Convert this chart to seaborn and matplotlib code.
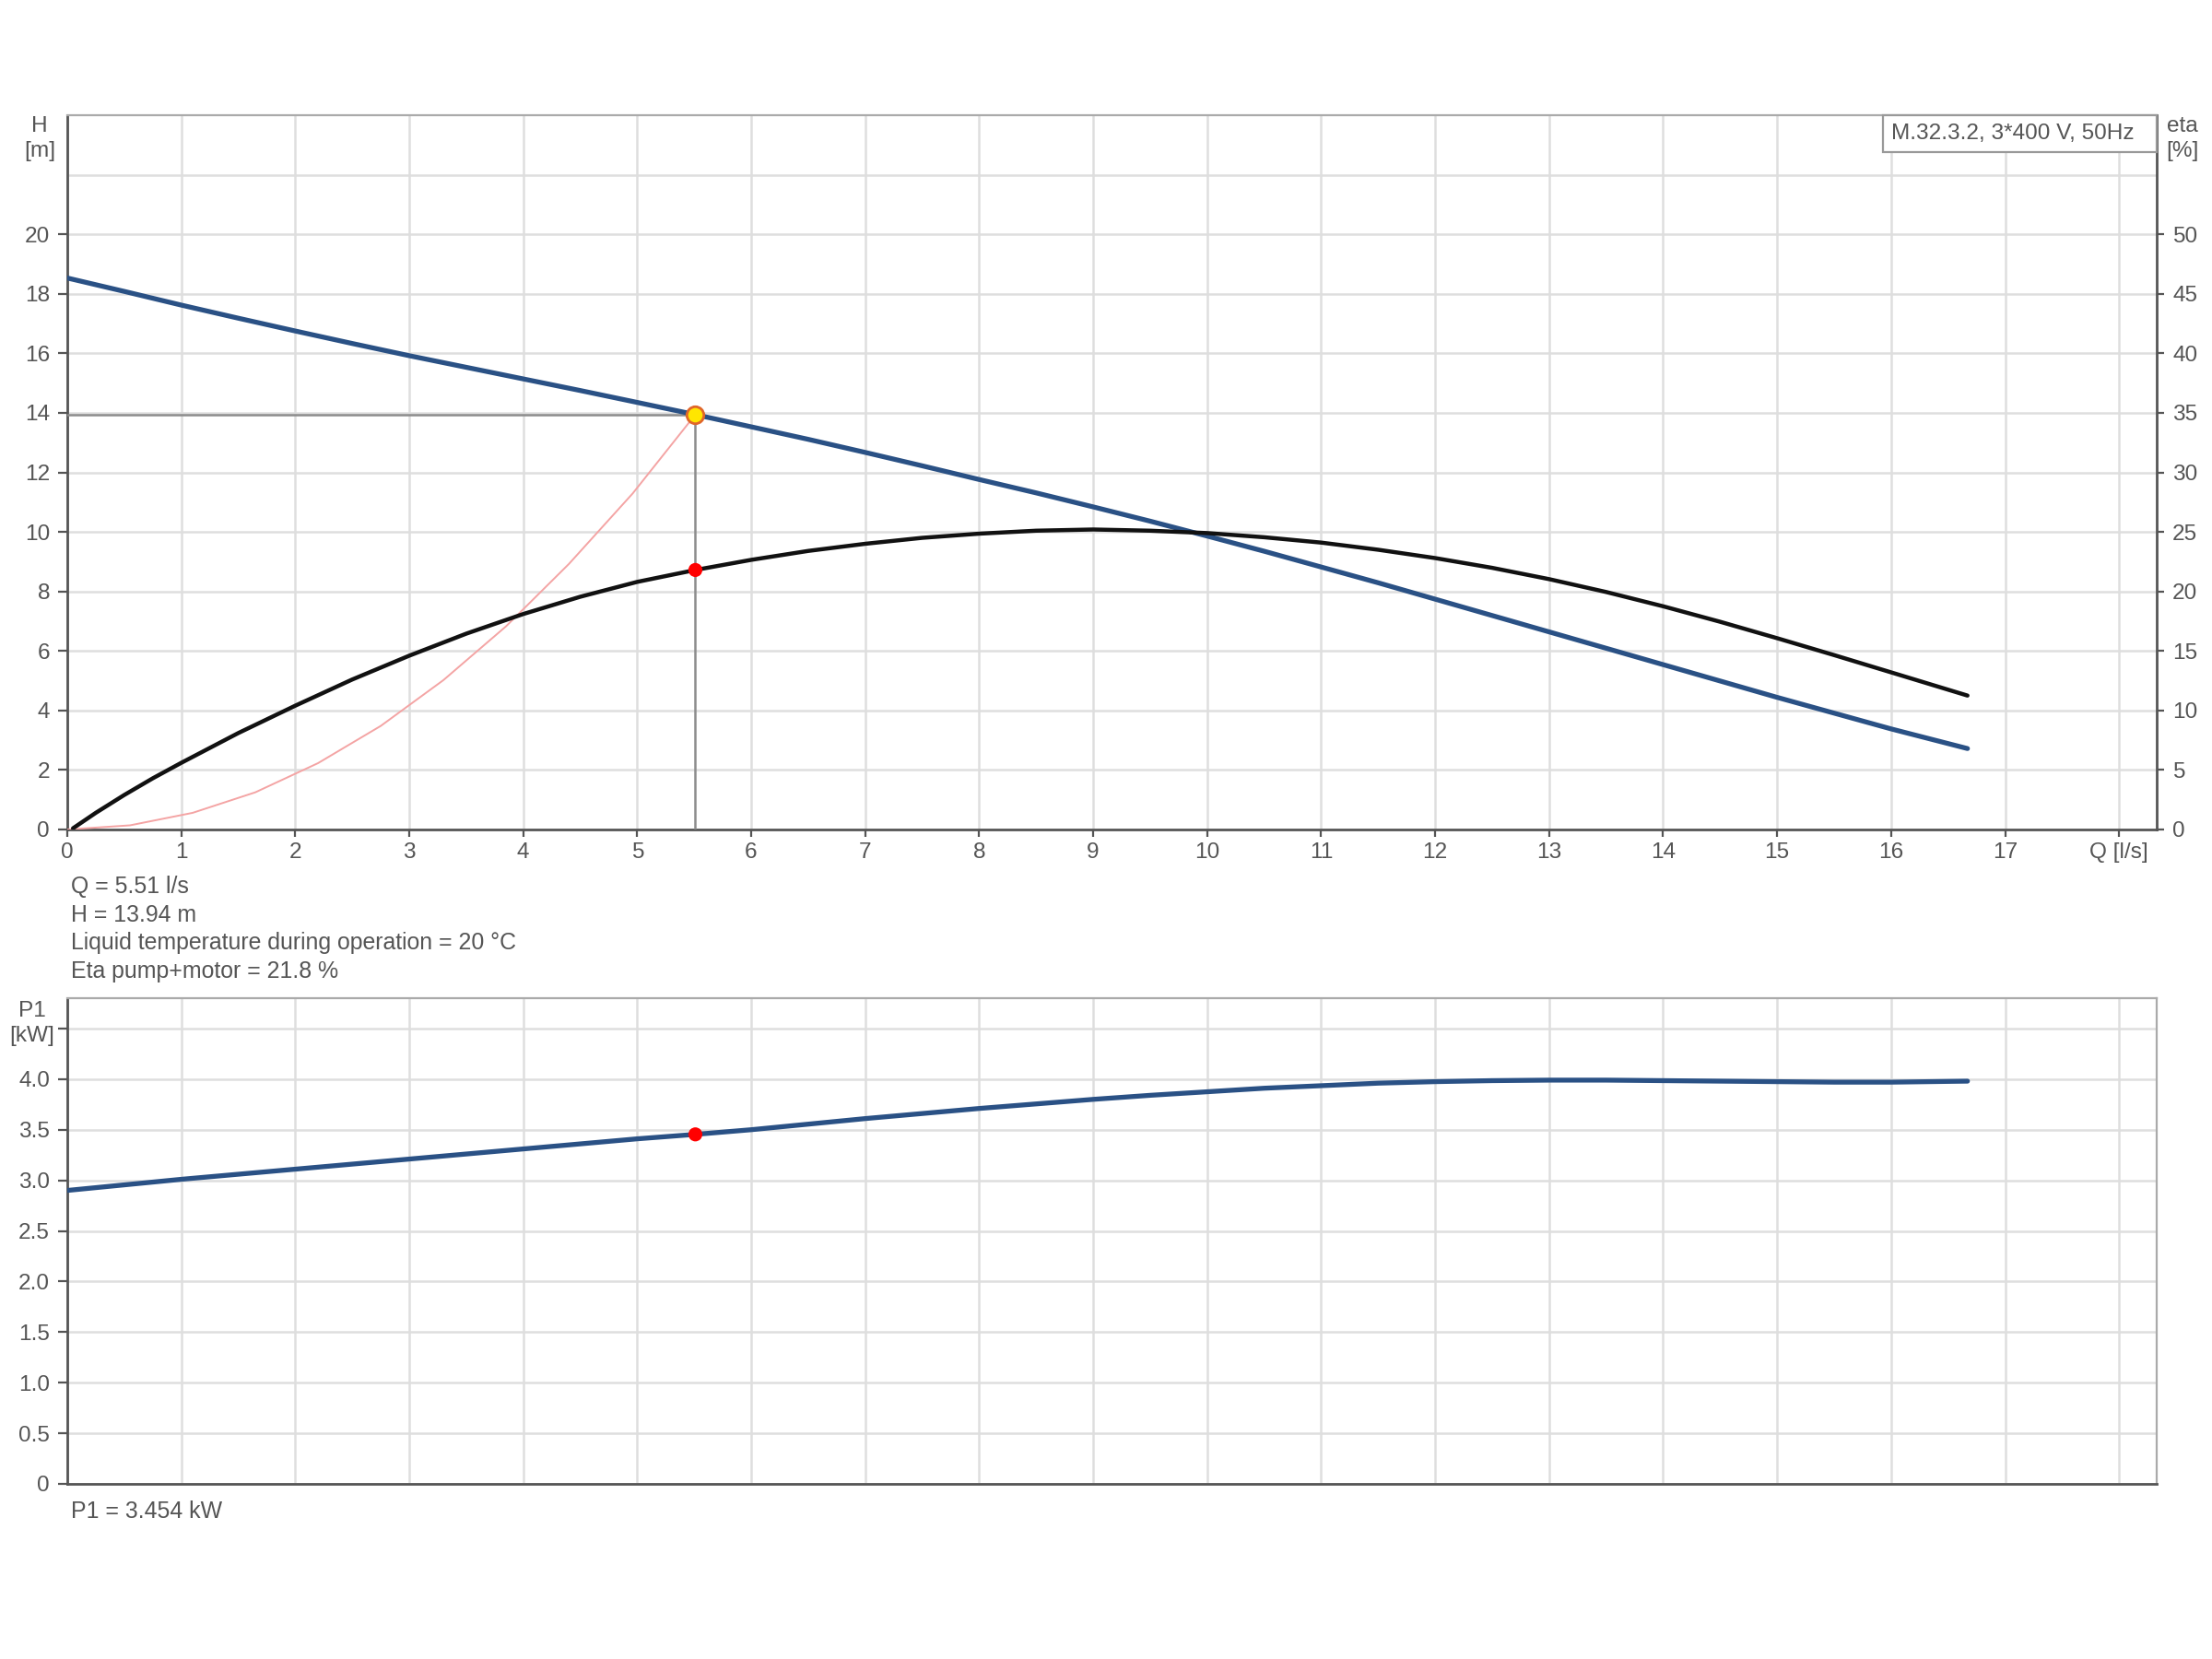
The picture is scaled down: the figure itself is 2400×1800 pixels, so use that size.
import numpy as np
import pandas as pd
import matplotlib
matplotlib.use("Agg")
import matplotlib.pyplot as plt
import seaborn as sns
from matplotlib.patches import Rectangle

# ---------------- data ----------------
q_pump = [0, 0.5, 1, 1.5, 2, 2.5, 3, 3.5, 4, 4.5, 5, 5.51, 6, 6.5, 7, 7.5, 8, 8.5,
          9, 9.5, 10, 10.5, 11, 11.5, 12, 12.5, 13, 13.5, 14, 14.5, 15, 15.5, 16, 16.67]
h_pump = [18.53, 18.08, 17.62, 17.18, 16.75, 16.33, 15.92, 15.53, 15.14, 14.75,
          14.35, 13.94, 13.53, 13.11, 12.67, 12.22, 11.76, 11.31, 10.84, 10.36,
          9.86, 9.35, 8.82, 8.29, 7.74, 7.19, 6.64, 6.09, 5.54, 4.99, 4.44, 3.91,
          3.38, 2.72]

q_eta = [0.05, 0.25, 0.5, 0.75, 1, 1.5, 2, 2.5, 3, 3.5, 4, 4.5, 5, 5.51, 6, 6.5, 7,
         7.5, 8, 8.5, 9, 9.5, 10, 10.5, 11, 11.5, 12, 12.5, 13, 13.5, 14, 14.5, 15,
         15.5, 16, 16.67]
eta = [0.1, 1.4, 2.9, 4.3, 5.6, 8.1, 10.4, 12.6, 14.6, 16.45, 18.1, 19.55, 20.8,
       21.8, 22.65, 23.4, 24.0, 24.5, 24.85, 25.1, 25.2, 25.1, 24.9, 24.55, 24.1,
       23.5, 22.8, 21.98, 21.03, 19.95, 18.75, 17.45, 16.07, 14.65, 13.2, 11.25]

q_sys = [0, 0.55, 1.1, 1.65, 2.2, 2.75, 3.3, 3.85, 4.4, 4.96, 5.51]
h_sys = [0, 0.14, 0.56, 1.25, 2.23, 3.48, 5.02, 6.83, 8.92, 11.29, 13.94]

q_p1 = [0, 1, 2, 3, 4, 5, 5.51, 6, 6.5, 7, 7.5, 8, 8.5, 9, 9.5, 10, 10.5, 11, 11.5,
        12, 12.5, 13, 13.5, 14, 14.5, 15, 15.5, 16, 16.67]
p1 = [2.90, 3.01, 3.11, 3.21, 3.31, 3.41, 3.454, 3.50, 3.555, 3.61, 3.66, 3.71,
      3.755, 3.80, 3.84, 3.875, 3.91, 3.935, 3.96, 3.975, 3.985, 3.99, 3.99, 3.985,
      3.98, 3.975, 3.97, 3.97, 3.98]

q_op = 5.51
h_op = 13.94
eta_op = 21.8
p1_op = 3.454

x_ticks = list(range(0, 19))
x_labels = [str(i) for i in range(0, 18)] + ["Q [l/s]"]
h_ticks = [0, 2, 4, 6, 8, 10, 12, 14, 16, 18, 20]
eta_ticks = [0, 5, 10, 15, 20, 25, 30, 35, 40, 45, 50]
p1_ticks = [0, 0.5, 1.0, 1.5, 2.0, 2.5, 3.0, 3.5, 4.0, 4.5]
p1_labels = ["0", "0.5", "1.0", "1.5", "2.0", "2.5", "3.0", "3.5", "4.0", ""]

title_box = "M.32.3.2, 3*400 V, 50Hz"
info_lines = ["Q = 5.51 l/s", "H = 13.94 m",
              "Liquid temperature during operation = 20 °C",
              "Eta pump+motor = 21.8 %"]
p1_text = "P1 = 3.454 kW"

# ---------------- style ----------------
sns.set_theme(style="white")
plt.rcParams['font.family'] = ['Liberation Sans', 'DejaVu Sans']
FS = 8.8
FS_INFO = 8.95
TXT = "#555555"
BLUE = "#2a5185"
GRID = "#dedede"
SPINE = "#555555"

W, H = 2400, 1800
fig = plt.figure(figsize=(12, 9), dpi=200)
fig.patch.set_facecolor("white")

def fx(px):
    return px / W

def fy(py):
    return 1 - py / H

XMAX = 18.33

# ---------------- top axes ----------------
ax = fig.add_axes([fx(73), fy(900), fx(2340) - fx(73), fy(125) - fy(900)])
ax.set_xlim(0, XMAX)
ax.set_ylim(0, 24)
ax.set_xticks(x_ticks)
ax.set_xticklabels(x_labels)
ax.set_yticks(h_ticks)
ax.set_yticklabels([str(v) for v in h_ticks])
ax.set_yticks([22], minor=True)
ax.grid(True, which="both", color=GRID, lw=0.9)
ax.set_axisbelow(True)
ax.tick_params(axis="x", which="major", direction="out", length=3, width=0.8,
               color=SPINE, pad=2, labelsize=FS, labelcolor=TXT, bottom=True)
ax.tick_params(axis="y", which="major", direction="out", length=3.6, width=0.8,
               color=SPINE, pad=3.2, labelsize=FS, labelcolor=TXT, left=True)
ax.tick_params(axis="y", which="minor", length=0)
for s in ["left", "bottom"]:
    ax.spines[s].set_color(SPINE)
    ax.spines[s].set_linewidth(1.0)
ax.spines["top"].set_color("#aaaaaa")
ax.spines["top"].set_linewidth(0.8)
ax.spines["right"].set_color(SPINE)
ax.spines["right"].set_linewidth(1.0)

# system curve + reference lines
sns.lineplot(x=q_sys, y=h_sys, ax=ax, color="#f4a4a4", lw=0.7, sort=False,
             estimator=None, zorder=3)
sns.lineplot(x=[0, q_op], y=[h_op, h_op], ax=ax, color="#8c8c8c", lw=0.9,
             sort=False, estimator=None, zorder=3)
sns.lineplot(x=[q_op, q_op], y=[0, h_op], ax=ax, color="#8c8c8c", lw=0.9,
             sort=False, estimator=None, zorder=3)
# pump curve
sns.lineplot(x=q_pump, y=h_pump, ax=ax, color=BLUE, lw=1.9, sort=False,
             estimator=None, zorder=4)
sns.scatterplot(x=[q_op], y=[h_op], ax=ax, s=44, color="#ffe600",
                edgecolor="#e0662a", linewidth=1.0, zorder=6)

# eta axis
ax2 = ax.twinx()
ax2.set_ylim(0, 60)
ax2.set_xlim(0, XMAX)
ax2.set_yticks(eta_ticks)
ax2.set_yticklabels([str(v) for v in eta_ticks])
ax2.grid(False)
ax2.patch.set_visible(False)
for s in ax2.spines.values():
    s.set_visible(False)
ax2.tick_params(axis="y", direction="out", length=3, width=0.8, color=SPINE,
                pad=3.2, labelsize=FS, labelcolor=TXT, right=True)
sns.lineplot(x=q_eta, y=eta, ax=ax2, color="#111111", lw=1.6, sort=False,
             estimator=None, zorder=4)
sns.scatterplot(x=[q_op], y=[eta_op], ax=ax2, s=30, color="#ff0000",
                edgecolor="none", zorder=6)
ax2.set_ylabel("")
ax.set_ylabel("")
ax.set_xlabel("")

# axis titles
fig.text(fx(43), fy(126), "H\n[m]", ha="center", va="top", fontsize=FS,
         color=TXT, linespacing=1.3)
fig.text(fx(2368), fy(126), "eta\n[%]", ha="center", va="top", fontsize=FS,
         color=TXT, linespacing=1.3)

# model box
fig.patches.append(Rectangle((fx(2043), fy(165)), fx(2340) - fx(2043),
                             fy(125) - fy(165), transform=fig.transFigure,
                             facecolor="white", edgecolor="#999999", lw=0.8,
                             zorder=10))
fig.text(fx(2052), fy(145), title_box, ha="left", va="center", fontsize=FS,
         color=TXT, zorder=11)

# info lines
for i, line in enumerate(info_lines):
    fig.text(fx(77), fy(962 + 30.5 * i), line, ha="left", va="center",
             fontsize=FS_INFO, color=TXT)

# ---------------- bottom axes ----------------
bx = fig.add_axes([fx(73), fy(1610), fx(2340) - fx(73), fy(1083) - fy(1610)])
bx.set_xlim(0, XMAX)
bx.set_ylim(0, 4.8)
bx.set_xticks(x_ticks)
bx.set_xticklabels([])
bx.set_yticks(p1_ticks)
bx.set_yticklabels(p1_labels)
bx.grid(True, color=GRID, lw=0.9)
bx.set_axisbelow(True)
bx.tick_params(axis="x", length=0)
bx.tick_params(axis="y", direction="out", length=3.6, width=0.8, color=SPINE,
               pad=3.2, labelsize=FS, labelcolor=TXT, left=True)
for s in ["left", "bottom"]:
    bx.spines[s].set_color(SPINE)
    bx.spines[s].set_linewidth(1.0)
for s in ["top", "right"]:
    bx.spines[s].set_color("#aaaaaa")
    bx.spines[s].set_linewidth(0.8)

sns.lineplot(x=q_p1, y=p1, ax=bx, color=BLUE, lw=1.9, sort=False,
             estimator=None, zorder=4)
sns.scatterplot(x=[q_op], y=[p1_op], ax=bx, s=30, color="#ff0000",
                edgecolor="none", zorder=6)
bx.set_ylabel("")
bx.set_xlabel("")

fig.text(fx(35), fy(1086), "P1\n[kW]", ha="center", va="top", fontsize=FS,
         color=TXT, linespacing=1.3)
fig.text(fx(77), fy(1640), p1_text, ha="left", va="center", fontsize=FS_INFO,
         color=TXT)

fig.savefig("out.png", dpi=200, facecolor="white")
